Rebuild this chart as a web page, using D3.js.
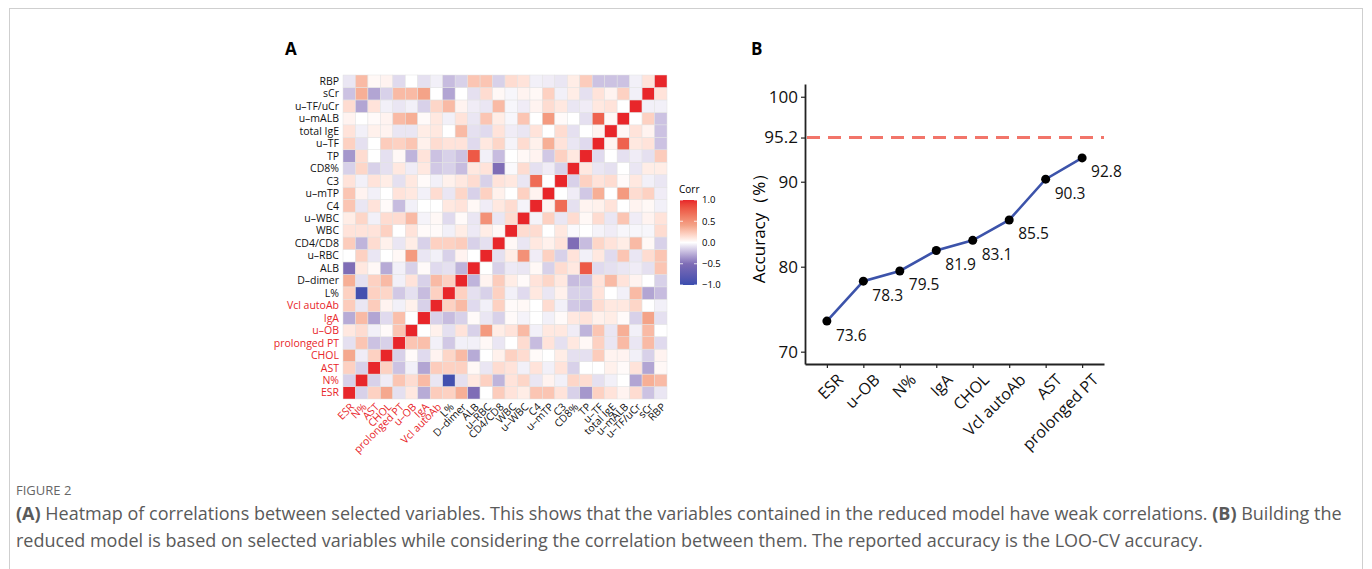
<!DOCTYPE html>
<html>
<head>
<meta charset="utf-8">
<script src="https://cdn.jsdelivr.net/npm/d3@7"></script>
<style>
body { margin: 0; background: #fff; }
</style>
</head>
<body>
<script>
// variables of the heatmap, bottom-left to top-right
var vars = ['ESR', 'N%', 'AST', 'CHOL', 'prolonged PT', 'u\u2013OB', 'IgA', 'Vcl autoAb', 'L%',
	'D\u2013dimer', 'ALB', 'u\u2013RBC', 'CD4/CD8', 'WBC', 'u\u2013WBC', 'C4', 'u\u2013mTP', 'C3',
	'CD8%', 'TP', 'u\u2013TF', 'total IgE', 'u\u2013mALB', 'u\u2013TF/uCr', 'sCr', 'RBP'];
// the ones kept in the reduced model are drawn in red
var redVars = ['ESR', 'N%', 'AST', 'CHOL', 'prolonged PT', 'u\u2013OB', 'IgA', 'Vcl autoAb'];

// lower triangle of the correlation matrix: lower[i][j] = corr(vars[i], vars[j]), j < i
var lower = [
	[],
	[-0.15],
	[0.2, -0.15],
	[0.38, -0.06, 0.2],
	[-0.1, 0.25, -0.2, -0.15],
	[0.1, 0.15, -0.05, 0.02, 0.25],
	[-0.28, 0.3, -0.3, -0.12, 0.28, 0],
	[0.22, -0.08, 0.22, 0.05, -0.05, 0.06, -0.15],
	[0.2, -0.95, 0.2, 0.18, -0.18, -0.1, -0.22, 0.2],
	[0.35, -0.1, 0.2, 0.3, -0.05, 0.12, -0.15, 0.3, 0.2],
	[-0.5, 0.1, 0.03, -0.28, -0.05, -0.15, 0.02, -0.12, -0.1, -0.25],
	[0, 0.2, -0.08, 0, 0.03, 0.45, -0.08, -0.05, -0.15, 0.05, 0],
	[0.22, -0.25, 0.15, 0.06, -0.08, 0.08, -0.15, 0.2, 0.2, 0.22, -0.15, -0.1],
	[0.12, 0.12, 0.12, 0.2, 0, 0.12, 0.02, 0.02, -0.05, 0.08, -0.07, 0.08, 0.03],
	[0.08, 0.18, -0.05, 0.15, 0.15, 0.3, -0.04, 0.03, -0.12, 0.02, -0.08, 0.5, -0.08, 0.15],
	[0.25, -0.08, 0.12, 0.02, -0.22, -0.05, 0, 0, 0.1, 0.12, 0.03, -0.06, 0.1, 0.15, -0.04],
	[0.25, 0.05, -0.05, 0, 0.12, 0.1, -0.05, 0.15, -0.08, 0.18, -0.15, 0.2, 0.06, 0, 0.2, 0.05],
	[0.12, -0.05, 0.12, 0.08, -0.1, 0.1, 0.02, -0.05, 0.06, 0.1, 0.15, -0.15, 0.12, 0.1, -0.08, 0.7, 0],
	[-0.15, 0.18, -0.15, -0.1, 0.1, -0.06, 0.1, -0.18, -0.15, -0.22, 0.1, 0.12, -0.5, -0.02, 0.15, -0.1, -0.06, -0.15],
	[-0.35, 0.15, 0, -0.1, 0.03, -0.25, 0.12, -0.2, -0.15, -0.2, 0.8, -0.05, -0.22, 0, 0.03, 0.05, -0.18, 0.2, 0.1],
	[0.2, -0.1, 0, 0.22, 0.2, 0.25, 0.06, 0.15, 0.12, 0.12, -0.12, 0.1, 0.18, -0.04, 0.15, 0.06, 0.35, 0.12, -0.08, -0.12],
	[0.12, -0.05, 0.06, 0.05, -0.08, -0.08, 0.08, 0.1, 0, 0.3, -0.1, -0.12, 0.12, -0.06, -0.08, 0.12, 0, 0.15, -0.1, 0, 0.05],
	[0.05, 0, 0.02, 0.05, 0.3, 0.35, 0.02, 0.1, -0.05, 0.12, -0.08, 0.25, 0.08, -0.03, 0.25, 0, 0.45, 0.02, 0, -0.1, 0.75, 0.03],
	[0.15, -0.3, 0.12, -0.05, -0.08, -0.05, -0.15, 0.18, 0.3, 0.05, -0.06, -0.08, 0.3, -0.03, -0.06, 0.05, 0.15, 0.1, -0.08, -0.06, 0.1, 0.12, 0],
	[-0.2, 0.35, -0.3, -0.15, 0.3, 0.3, 0.4, 0, -0.3, 0, -0.1, 0.15, 0.03, -0.03, 0.05, 0.03, 0.2, -0.05, 0.08, -0.1, 0.12, 0.05, 0.2, -0.05],
	[-0.08, 0.3, 0.03, 0.05, -0.12, 0, -0.1, -0.05, -0.22, -0.15, 0.25, 0.25, -0.15, 0.15, 0.12, -0.05, -0.06, -0.08, 0.08, 0.22, -0.2, -0.2, -0.2, -0.05, 0.12]
];
var legendTicks = [1, 0.5, 0, -0.5, -1];

// panel B: variables added one by one and the LOO-CV accuracy
var steps = ['ESR', 'u\u2013OB', 'N%', 'IgA', 'CHOL', 'Vcl autoAb', 'AST', 'prolonged PT'];
var accuracy = [73.6, 78.3, 79.5, 81.9, 83.1, 85.5, 90.3, 92.8];
var fullModel = 95.2;
var yTicks = [70, 80, 90, 95.2, 100];

var width = 1372,
	height = 569;
var font = '"Open Sans", sans-serif';

var svg = d3.select('body').append('svg')
	.attr('width', width)
	.attr('height', height)
	.style('font-family', font);

// light frame round the figure
svg.append('rect')
	.attr('x', 9.5).attr('y', 8.5)
	.attr('width', 1353).attr('height', 600)
	.attr('fill', 'none')
	.attr('stroke', '#cfcfcf');

// ---------- panel A: heatmap ----------
var cells = [];
vars.forEach(function(a, i) {
	vars.forEach(function(b, j) {
		var v = i === j ? 1 : (j < i ? lower[i][j] : lower[j][i]);
		cells.push({row: a, col: b, value: v});
	});
});

var hm = {left: 343, top: 75, size: 324};
var xA = d3.scaleBand().domain(vars).range([hm.left, hm.left + hm.size]);
var yA = d3.scaleBand().domain(vars.slice().reverse()).range([hm.top, hm.top + hm.size]);

// blue - white - red, with the purple tinge of the original in the middle
var colorA = d3.scaleLinear()
	.domain([-1, -0.5, 0, 0.4, 0.7, 1])
	.range(['#3a4dae', '#7f6db6', '#ffffff', '#f4a388', '#ef6b55', '#e8262a'])
	.interpolate(d3.interpolateLab)
	.clamp(true);

svg.append('text')
	.attr('x', 285).attr('y', 55)
	.style('font-size', '17px').style('font-weight', 'bold')
	.text('A');

svg.append('g').selectAll('rect')
	.data(cells)
	.enter().append('rect')
	.attr('x', function(d) { return xA(d.col); })
	.attr('y', function(d) { return yA(d.row); })
	.attr('width', xA.bandwidth())
	.attr('height', yA.bandwidth())
	.attr('fill', function(d) { return colorA(d.value); })
	.attr('stroke', '#e2e2e2')
	.attr('stroke-width', 0.5);

var labColor = function(d) { return redVars.indexOf(d) >= 0 ? '#e8262a' : '#111'; };

// row labels
svg.append('g').selectAll('text')
	.data(vars)
	.enter().append('text')
	.attr('x', hm.left - 4)
	.attr('y', function(d) { return yA(d) + yA.bandwidth() / 2; })
	.attr('dy', '0.35em')
	.attr('text-anchor', 'end')
	.style('font-size', '10.5px')
	.attr('fill', labColor)
	.text(function(d) { return d; });

// column labels, rotated 45 degrees
svg.append('g').selectAll('text')
	.data(vars)
	.enter().append('text')
	.attr('transform', function(d) {
		return 'translate(' + (xA(d) + xA.bandwidth() / 2 + 3) + ',' + (hm.top + hm.size + 6) + ') rotate(-45)';
	})
	.attr('dy', '0.35em')
	.attr('text-anchor', 'end')
	.style('font-size', '10.5px')
	.attr('fill', labColor)
	.text(function(d) { return d; });

// colour bar legend
var legY = d3.scaleLinear().domain([1, -1]).range([200, 285]);
var grad = svg.append('defs').append('linearGradient')
	.attr('id', 'corrgrad')
	.attr('x1', 0).attr('y1', 0).attr('x2', 0).attr('y2', 1);
d3.range(0, 21).forEach(function(k) {
	var v = 1 - k / 10;
	grad.append('stop').attr('offset', (k / 20)).attr('stop-color', colorA(v));
});
svg.append('text')
	.attr('x', 679).attr('y', 193)
	.style('font-size', '10px')
	.text('Corr');
svg.append('rect')
	.attr('x', 680).attr('y', legY(1))
	.attr('width', 17).attr('height', legY(-1) - legY(1))
	.attr('fill', 'url(#corrgrad)');
var legG = svg.append('g');
legendTicks.forEach(function(t) {
	legG.append('line').attr('x1', 680).attr('x2', 683).attr('y1', legY(t)).attr('y2', legY(t))
		.attr('stroke', '#fff').attr('stroke-width', 0.8);
	legG.append('line').attr('x1', 694).attr('x2', 697).attr('y1', legY(t)).attr('y2', legY(t))
		.attr('stroke', '#fff').attr('stroke-width', 0.8);
	legG.append('text')
		.attr('x', 702).attr('y', legY(t)).attr('dy', '0.35em')
		.style('font-size', '9.5px')
		.text(t === 0 ? '0.0' : d3.format('.1f')(t).replace('-', '\u2013'));
});

// ---------- panel B: accuracy line ----------
var pb = {left: 805, right: 1104, top: 84, bottom: 364};
var xB = d3.scalePoint().domain(steps).range([pb.left, pb.right]).padding(0.6);
var yB = d3.scaleLinear().domain([68.55, 101.5]).range([pb.bottom, pb.top]);

svg.append('text')
	.attr('x', 751).attr('y', 55)
	.style('font-size', '17px').style('font-weight', 'bold')
	.text('B');

var gB = svg.append('g');

gB.append('g')
	.attr('transform', 'translate(' + pb.left + ',0)')
	.call(d3.axisLeft(yB).tickValues(yTicks).tickSize(4).tickSizeOuter(0)
		.tickFormat(function(d) { return d === 95.2 ? '95.2' : d; }))
	.call(function(g) {
		g.select('.domain').attr('stroke', '#222').attr('stroke-width', 1.8);
		g.selectAll('.tick line').attr('stroke', '#222').attr('stroke-width', 1.2);
		g.selectAll('.tick text').attr('fill', '#111').style('font-size', '17px').style('font-family', font).attr('x', -7);
	});

gB.append('g')
	.attr('transform', 'translate(0,' + pb.bottom + ')')
	.call(d3.axisBottom(xB).tickSize(4).tickSizeOuter(0))
	.call(function(g) {
		g.select('.domain').attr('stroke', '#222').attr('stroke-width', 1.8);
		g.selectAll('.tick line').attr('stroke', '#222').attr('stroke-width', 1.2);
		g.selectAll('.tick text')
			.attr('fill', '#111')
			.style('font-size', '16px')
			.style('font-family', font)
			.attr('text-anchor', 'end')
			.attr('transform', 'translate(4,4) rotate(-45)')
			.attr('dy', '0.7em');
	});

// y axis title
svg.append('text')
	.attr('transform', 'translate(765,' + ((pb.top + pb.bottom) / 2) + ') rotate(-90)')
	.attr('text-anchor', 'middle')
	.style('font-size', '17px')
	.text('Accuracy\uff08%\uff09');

// full model reference line
gB.append('line')
	.attr('x1', pb.left + 2).attr('x2', pb.right)
	.attr('y1', yB(fullModel)).attr('y2', yB(fullModel))
	.attr('stroke', '#f2756a')
	.attr('stroke-width', 3)
	.attr('stroke-dasharray', '13,8');

var pts = steps.map(function(s, i) { return {step: s, acc: accuracy[i]}; });

gB.append('path')
	.datum(pts)
	.attr('fill', 'none')
	.attr('stroke', '#3c53aa')
	.attr('stroke-width', 2.6)
	.attr('d', d3.line()
		.x(function(d) { return xB(d.step); })
		.y(function(d) { return yB(d.acc); }));

gB.selectAll('.dot')
	.data(pts)
	.enter().append('circle')
	.attr('class', 'dot')
	.attr('cx', function(d) { return xB(d.step); })
	.attr('cy', function(d) { return yB(d.acc); })
	.attr('r', 4.5)
	.attr('fill', '#000');

gB.selectAll('.lab')
	.data(pts)
	.enter().append('text')
	.attr('class', 'lab')
	.attr('x', function(d) { return xB(d.step) + 9; })
	.attr('y', function(d) { return yB(d.acc) + 14; })
	.attr('dy', '0.35em')
	.style('font-size', '15.5px')
	.attr('fill', '#111')
	.text(function(d) { return d3.format('.1f')(d.acc); });

// ---------- caption ----------
svg.append('text')
	.attr('x', 16).attr('y', 495)
	.style('font-size', '13px')
	.attr('fill', '#666')
	.text('FIGURE 2');

var cap1 = svg.append('text')
	.attr('x', 16).attr('y', 520)
	.style('font-size', '18px')
	.attr('fill', '#5a5a5a');
cap1.append('tspan').style('font-weight', 'bold').text('(A)');
cap1.append('tspan').text(' Heatmap of correlations between selected variables. This shows that the variables contained in the reduced model have weak correlations. ');
cap1.append('tspan').style('font-weight', 'bold').text('(B)');
cap1.append('tspan').text(' Building the');

svg.append('text')
	.attr('x', 16).attr('y', 547)
	.style('font-size', '18px')
	.attr('fill', '#5a5a5a')
	.text('reduced model is based on selected variables while considering the correlation between them. The reported accuracy is the LOO-CV accuracy.');
</script>
</body>
</html>
